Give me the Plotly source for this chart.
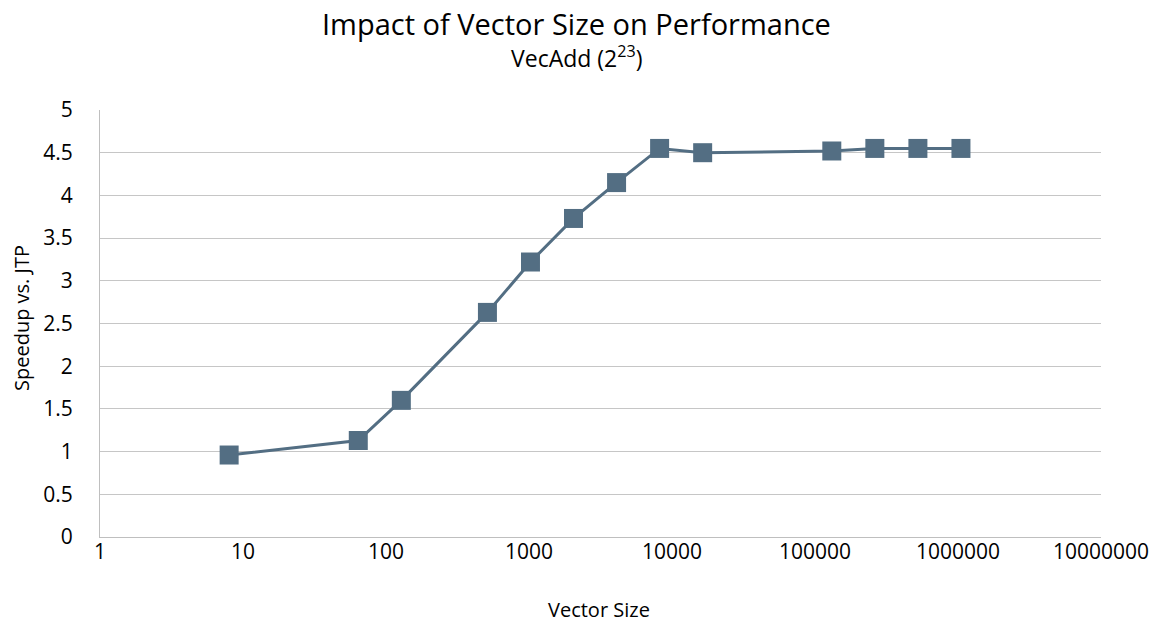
import plotly.graph_objects as go

vector_size = [8, 64, 128, 512, 1024, 2048, 4096, 8192, 16384, 131072, 262144, 524288, 1048576]
speedup = [0.96, 1.13, 1.60, 2.63, 3.22, 3.73, 4.15, 4.55, 4.50, 4.52, 4.55, 4.55, 4.55]

x_tickvals = [1, 10, 100, 1000, 10000, 100000, 1000000, 10000000]
x_ticktext = ["1", "10", "100", "1000", "10000", "100000", "1000000", "10000000"]
y_tickvals = [0, 0.5, 1, 1.5, 2, 2.5, 3, 3.5, 4, 4.5, 5]
y_ticktext = ["0", "0.5", "1", "1.5", "2", "2.5", "3", "3.5", "4", "4.5", "5"]

color = "#536e83"
font = "Open Sans"

# page body has an 8px margin: figure starts at page (8, 8)
W, H = 1150, 615
L, R, T, B = 92, 57, 102, 86
plot_w = W - L - R
plot_h = H - T - B

def xpaper(page_x):
    return (page_x - 8 - L) / plot_w

def ypaper(page_y):
    return (H - B - (page_y - 8)) / plot_h

fig = go.Figure()
fig.add_trace(go.Scatter(
    x=vector_size, y=speedup, mode="lines+markers",
    line=dict(color=color, width=3),
    marker=dict(symbol="square", size=19, color=color),
    showlegend=False,
))

fig.update_layout(
    width=W, height=H,
    margin=dict(l=L, r=R, t=T, b=B, autoexpand=False),
    paper_bgcolor="white", plot_bgcolor="white",
    font=dict(family=font, color="#000000"),
    annotations=[
        dict(text="Impact of Vector Size on Performance", x=xpaper(576), y=ypaper(23), xref="paper", yref="paper",
             xanchor="center", yanchor="middle", showarrow=False, font=dict(size=29, family=font)),
        dict(text="VecAdd (2<sup>23</sup>)", x=xpaper(576), y=ypaper(57), xref="paper", yref="paper",
             xanchor="center", yanchor="middle", showarrow=False, font=dict(size=23, family=font)),
        dict(text="Vector Size", x=xpaper(599), y=ypaper(609), xref="paper", yref="paper",
             xanchor="center", yanchor="middle", showarrow=False, font=dict(size=20, family=font)),
        dict(text="Speedup vs. JTP", x=xpaper(21), y=ypaper(318), xref="paper", yref="paper",
             xanchor="center", yanchor="middle", textangle=-90, showarrow=False,
             font=dict(size=20, family=font)),
    ],
)

fig.update_xaxes(
    type="log", range=[0, 7],
    tickvals=x_tickvals, ticktext=x_ticktext,
    tickfont=dict(size=21, family=font),
    showgrid=False, showline=True, linecolor="#bfbfbf", linewidth=1,
    ticks="", zeroline=False, automargin=False, ticklabelstandoff=-4,
)
fig.update_yaxes(
    range=[0, 5],
    tickvals=y_tickvals, ticktext=y_ticktext,
    tickfont=dict(size=21, family=font),
    showgrid=True, gridcolor="#c6c6c6", gridwidth=1,
    showline=True, linecolor="#bfbfbf", linewidth=1,
    ticks="", zeroline=False, automargin=False, ticklabelstandoff=22,
)

fig.write_html("out.html")
